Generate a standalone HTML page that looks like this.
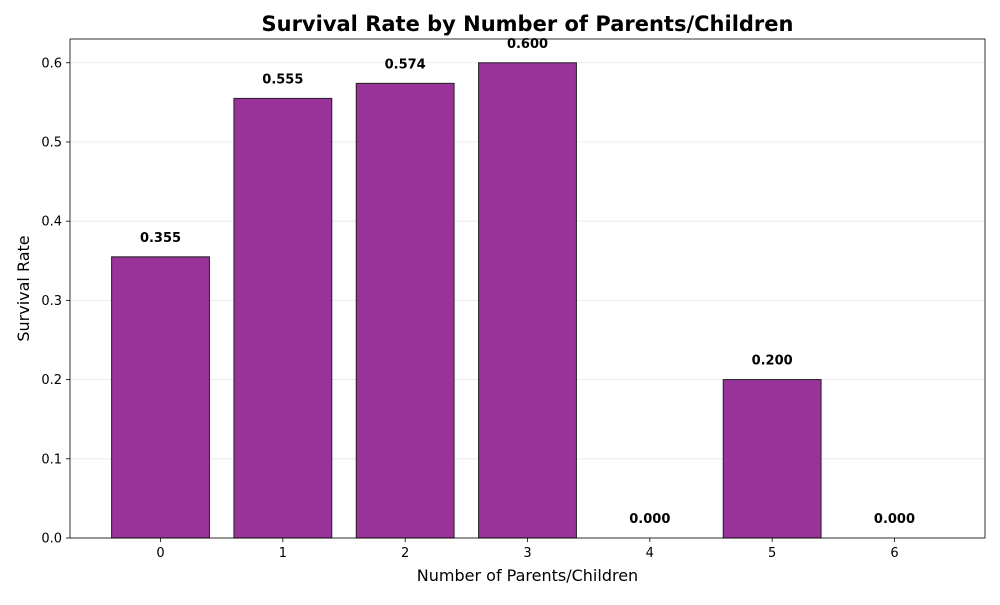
<!DOCTYPE html>
<html><head><meta charset="utf-8"><style>
body{margin:0;background:#fff;font-family:"Liberation Sans","DejaVu Sans",sans-serif;}
</style></head><body>
<svg id="chart" width="1000" height="600" xmlns="http://www.w3.org/2000/svg" font-family="DejaVu Sans, Liberation Sans, sans-serif"></svg>
<script>
const categories = ["0","1","2","3","4","5","6"];
const survivalRates = [0.355,0.555,0.574,0.600,0.000,0.200,0.000];
const valueLabels = ["0.355","0.555","0.574","0.600","0.000","0.200","0.000"];
const yTicks = [0,0.1,0.2,0.3,0.4,0.5,0.6];
const yTickLabels = ["0.0","0.1","0.2","0.3","0.4","0.5","0.6"];

const svg = document.getElementById('chart');
const NS = 'http://www.w3.org/2000/svg';
const L=70,R=985,T=39,B=538;
const xMin=-0.74,xMax=6.74,yMin=0,yMax=0.63;
const xs=v=>L+(v-xMin)/(xMax-xMin)*(R-L);
const ys=v=>B-(v-yMin)/(yMax-yMin)*(B-T);
const bw=0.8*(R-L)/(xMax-xMin);
function mk(tag,attrs,txt){const e=document.createElementNS(NS,tag);for(const k in attrs)e.setAttribute(k,attrs[k]);if(txt!==undefined)e.textContent=txt;svg.appendChild(e);return e;}

yTicks.forEach((t,i)=>{
  const g=mk('line',{x1:L,x2:R,y1:ys(t),y2:ys(t),stroke:'#e6e6e6','stroke-width':0.8});
  
  
  const tk=mk('line',{x1:L-4,x2:L,y1:ys(t),y2:ys(t),stroke:'#000','stroke-width':0.8});
  
  
  const lb=mk('text',{x:L-8,y:ys(t)+4.5,'text-anchor':'end','font-size':13},yTickLabels[i]);
  
  
});
categories.forEach((c,i)=>{
  const v=survivalRates[i];
  const b=mk('rect',{x:xs(i)-bw/2,y:ys(v),width:bw,height:ys(0)-ys(v),fill:'#993399',stroke:'#222','stroke-width':1});
  
  
  const vl=mk('text',{x:xs(i),y:ys(v)-15,'text-anchor':'middle','font-size':13,'font-weight':'bold'},valueLabels[i]);
  
  
  const tk=mk('line',{x1:xs(i),x2:xs(i),y1:B,y2:B+4,stroke:'#000','stroke-width':0.8});
  
  
  const lb=mk('text',{x:xs(i),y:B+19,'text-anchor':'middle','font-size':13},c);
  
  
});
const fr=mk('rect',{x:L,y:T,width:R-L,height:B-T,fill:'none',stroke:'#000','stroke-width':0.8});


const tt=mk('text',{x:(L+R)/2,y:31,'text-anchor':'middle','font-size':21,'font-weight':'bold'},'Survival Rate by Number of Parents/Children');


const xt=mk('text',{x:(L+R)/2,y:581,'text-anchor':'middle','font-size':16},'Number of Parents/Children');


const yt=mk('text',{x:29,y:(T+B)/2,'text-anchor':'middle','font-size':16,transform:'rotate(-90 29 '+((T+B)/2)+')'},'Survival Rate');


</script>
</body></html>
